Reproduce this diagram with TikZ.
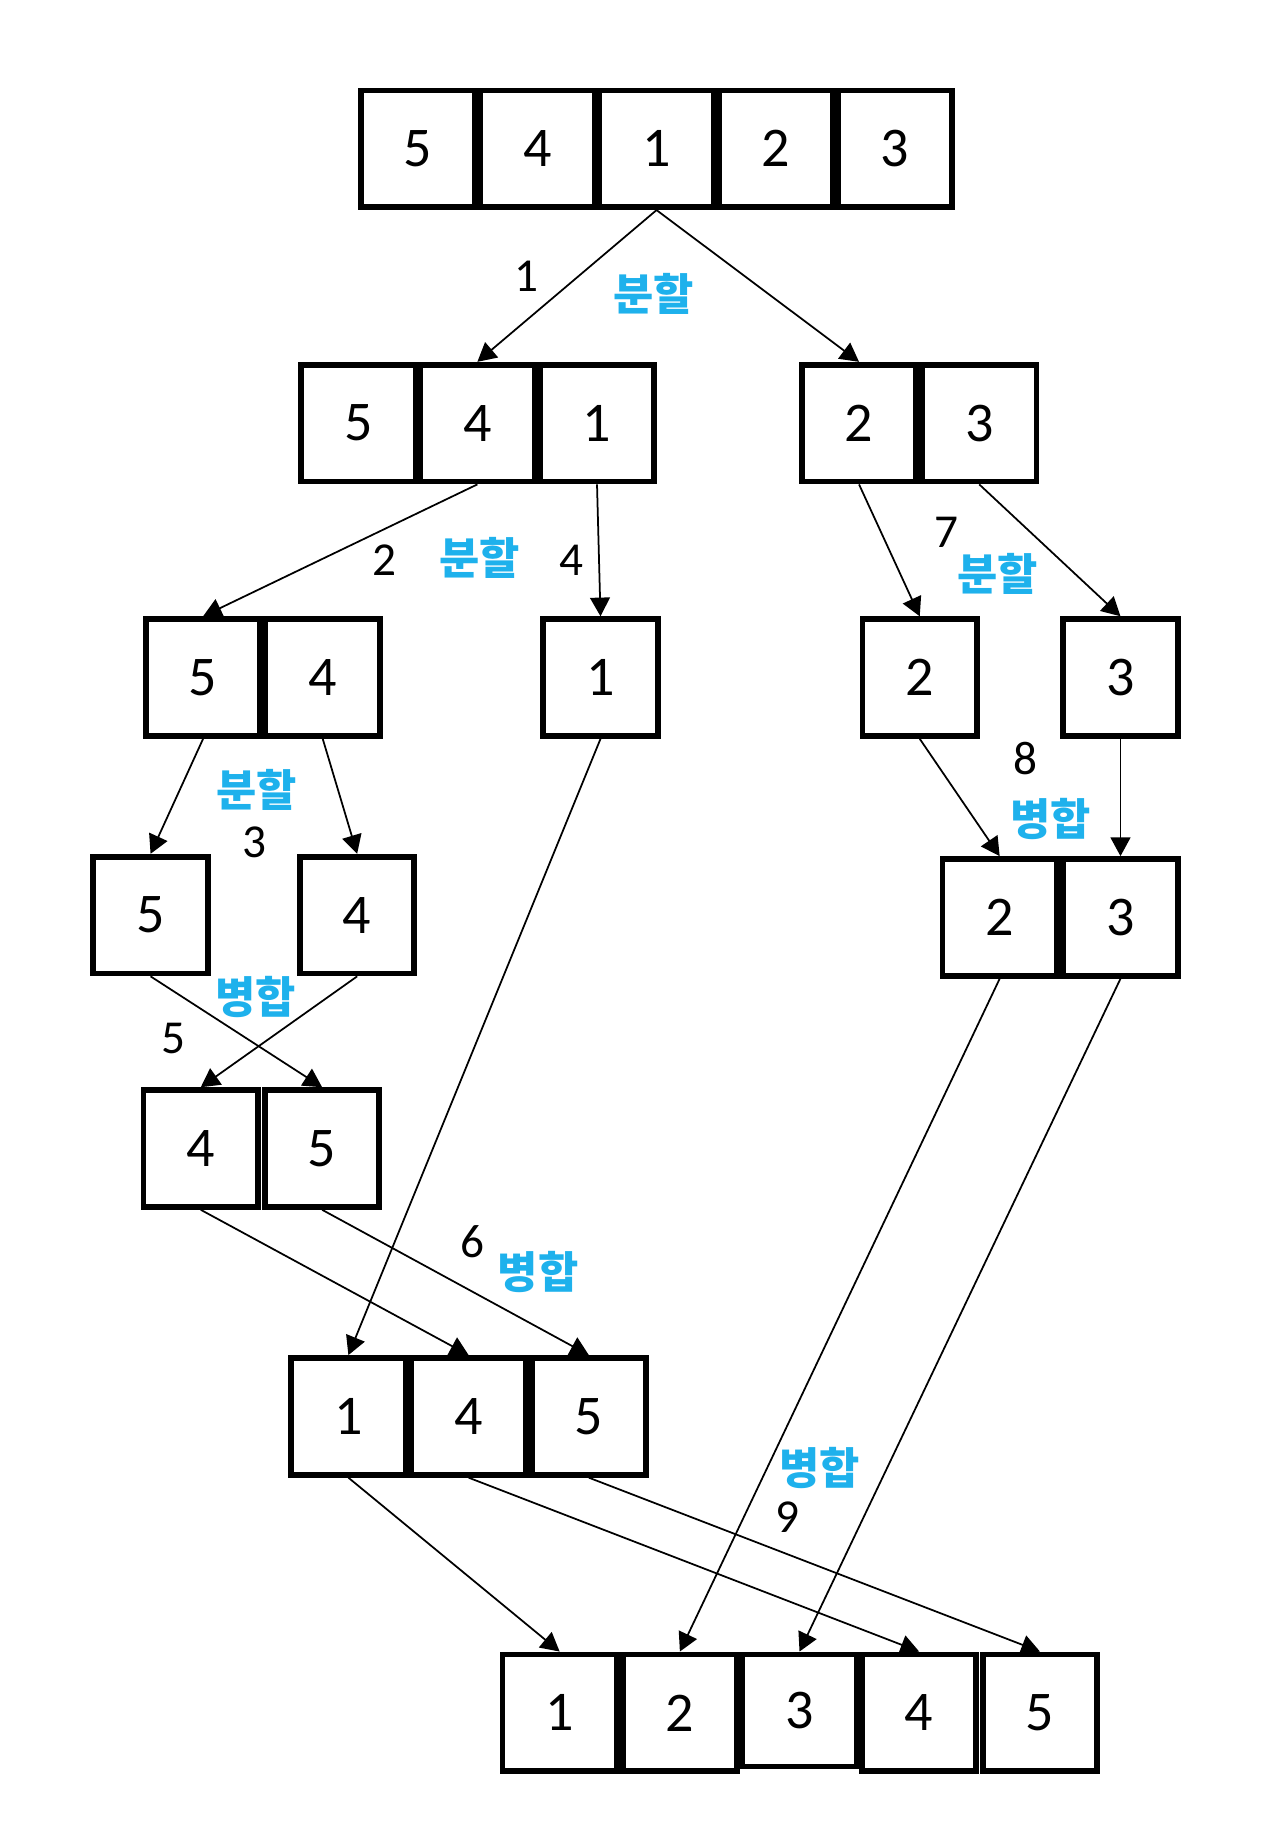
\documentclass[tikz,border=0pt]{standalone}
\usepackage{fontspec}
\setmainfont{Carlito}
\newfontfamily\kofont{Noto Sans CJK KR}
\usetikzlibrary{arrows.meta}
\definecolor{kblue}{RGB}{30,177,236}
\tikzset{
  cell/.style={draw=black, line width=5pt, minimum width=98pt, minimum height=100pt, inner sep=0pt, font=\fontsize{48}{54}\selectfont},
  arr/.style={draw=black, line width=1.5pt, -{Triangle[length=16pt,width=17pt]}},
  numlab/.style={inner sep=0pt, font=\fontsize{40.5}{46}\selectfont},
  kolab/.style={inner sep=0pt, text=kblue, font=\kofont\bfseries\fontsize{37.5}{42}\selectfont},
}
\begin{document}
\begin{tikzpicture}[x=1pt,y=-1pt]
\useasboundingbox[fill=white] (0,0) rectangle (1095,1569.6);
% top row
\node[cell] (t1) at (358.1,127.5) {5};
\node[cell] (t2) at (460.3,127.5) {4};
\node[cell] (t3) at (562.5,127.5) {1};
\node[cell] (t4) at (664.7,127.5) {2};
\node[cell] (t5) at (766.9,127.5) {3};
% row 2
\node[cell] (l1) at (307,362.5) {5};
\node[cell] (l2) at (409,362.5) {4};
\node[cell] (l3) at (511.5,362.5) {1};
\node[cell] (r1) at (736,362.5) {2};
\node[cell] (r2) at (839,362.5) {3};
% row 3
\node[cell] (m1) at (174,580.5) {5};
\node[cell] (m2) at (276.5,580.5) {4};
\node[cell] (s1) at (514.5,580.5) {1};
\node[cell] (s2) at (788,580.5) {2};
\node[cell] (s3) at (960,580.5) {3};
% row 4
\node[cell] (u1) at (129,784) {5};
\node[cell] (u2) at (306,784) {4};
\node[cell] (v1) at (856.5,786) {2};
\node[cell] (v2) at (960,786) {3};
% row 5
\node[cell] (w1) at (172,984) {4};
\node[cell] (w2) at (276,984) {5};
% row 6
\node[cell] (x1) at (298.5,1213.5) {1};
\node[cell] (x2) at (401.5,1213.5) {4};
\node[cell] (x3) at (504.5,1213.5) {5};
% bottom row
\node[cell] (b1) at (479.5,1467.5) {1};
\node[cell] (b2) at (582.5,1467.5) {2};
\node[cell, minimum height=96pt] (b3) at (685,1465.5) {3};
\node[cell] (b4) at (787.5,1467.5) {4};
\node[cell] (b5) at (891,1467.5) {5};
% connectors
\draw[arr] (t3.south) -- (l2.north);
\draw[arr] (t3.south) -- (r1.north);
\draw[arr] (l2.south) -- (m1.north);
\draw[arr] (l3.south) -- (s1.north);
\draw[arr] (r1.south) -- (s2.north);
\draw[arr] (r2.south) -- (s3.north);
\draw[arr] (m1.south) -- (u1.north);
\draw[arr] (m2.south) -- (u2.north);
\draw[arr] (s1.south) -- (x1.north);
\draw[arr] (s2.south) -- (v1.north);
\draw[arr] (s3.south) -- (v2.north);
\draw[arr] (u1.south) -- (w2.north);
\draw[arr] (u2.south) -- (w1.north);
\draw[arr] (v1.south) -- (b2.north);
\draw[arr] (v2.south) -- (b3.north);
\draw[arr] (w1.south) -- (x2.north);
\draw[arr] (w2.south) -- (x3.north);
\draw[arr] (x1.south) -- (b1.north);
\draw[arr] (x2.south) -- (b4.north);
\draw[arr] (x3.south) -- (b5.north);
% labels
\node[numlab] (n1) at (451,237) {1};
\node[kolab] (k1) at (560,252) {분할};
\node[numlab] (n2) at (329,480) {2};
\node[kolab] (k2) at (411,478) {분할};
\node[numlab] (n4) at (490,480) {4};
\node[numlab] (n7) at (811,456) {7};
\node[kolab] (k7) at (855,492) {분할};
\node[kolab] (k3) at (220,677) {분할};
\node[numlab] (n3) at (218,721.5) {3};
\node[numlab] (n8) at (879,650) {8};
\node[kolab] (k8) at (900,702) {병합};
\node[kolab] (k5) at (219,854) {병합};
\node[numlab] (n5) at (149,890) {5};
\node[numlab] (n6) at (405,1064) {6};
\node[kolab] (k6) at (461,1090) {병합};
\node[kolab] (k9) at (702,1258) {병합};
\node[numlab] (n9) at (675,1300) {9};
\end{tikzpicture}
\end{document}
